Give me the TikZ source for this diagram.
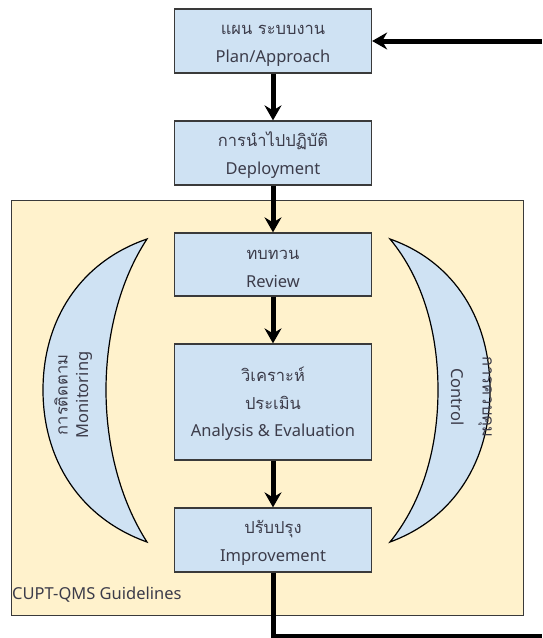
\documentclass[tikz,border=0pt]{standalone}
\usepackage{fontspec}
\setmainfont{Noto Sans}
\newfontfamily\thai[Script=Thai]{Loma}
\usetikzlibrary{arrows.meta}
\definecolor{boxfill}{HTML}{CFE2F3}
\definecolor{bgfill}{HTML}{FFF2CC}
\definecolor{txt}{HTML}{3C3C4A}
\definecolor{edge}{HTML}{3A3A3A}
\newcommand{\lowstrut}{\rule{0pt}{18.5pt}}
\tikzset{
  stepbox/.style={draw=edge, line width=1.3pt, fill=boxfill, minimum width=197pt, inner sep=0pt, align=center, text=txt, font=\fontsize{16.5}{27.5}\selectfont},
  flow/.style={line width=5pt, -{Stealth[length=15pt,width=17pt,inset=5pt]}},
  plainflow/.style={line width=5pt},
  crescent/.style={draw=black, line width=1.2pt, fill=boxfill},
  lbl/.style={text=txt, font=\fontsize{16.5}{18}\selectfont, inner sep=0pt}
}
\begin{document}
\begin{tikzpicture}[x=1pt,y=-1pt]
\useasboundingbox (0,0) rectangle (542,638);
% background
\node[draw=edge, line width=1.2pt, fill=bgfill, minimum width=512pt, minimum height=415pt, inner sep=0pt, anchor=north west] (bg) at (11,200) {};
\node[lbl, anchor=west] (guide) at (12,595) {CUPT-QMS Guidelines};
% boxes
\node[stepbox, minimum height=64pt] (plan) at (273,41) {\lowstrut{\thai แผน ระบบงาน}\\Plan/Approach};
\node[stepbox, minimum height=64pt] (deploy) at (273,153) {\lowstrut{\thai การนำไปปฏิบัติ}\\Deployment};
\node[stepbox, minimum height=63pt] (review) at (273,264.5) {\lowstrut{\thai ทบทวน}\\Review};
\node[stepbox, minimum height=116pt] (anal) at (273,402) {\lowstrut{\thai วิเคราะห์}\\{\thai ประเมิน}\\Analysis \& Evaluation};
\node[stepbox, minimum height=64pt] (impr) at (273,540) {\lowstrut{\thai ปรับปรุง}\\Improvement};
% crescents
\draw[crescent] (147,239) .. controls (80,262) and (43,320) .. (43,390) .. controls (43,460) and (80,518) .. (147,542)
  .. controls (120,500) and (106,445) .. (106,390) .. controls (106,335) and (120,280) .. (147,239) -- cycle;
\draw[crescent] (390,239) .. controls (455,262) and (490,320) .. (490,390) .. controls (490,460) and (455,518) .. (390,542)
  .. controls (424,500) and (438,445) .. (438,390) .. controls (438,335) and (424,280) .. (390,239) -- cycle;
\node[lbl, rotate=90] (month) at (61,395) {\thai การติดตาม};
\node[lbl, rotate=90] (mon) at (84,395) {Monitoring};
\node[lbl, rotate=-90] (con) at (458,397) {Control};
\node[lbl, rotate=-90] (conth) at (485,397) {\thai การควบคุม};
% connectors
\coordinate (inR) at (542,41);
\coordinate (botL) at (273,636);
\coordinate (botR) at (542,636);
\draw[flow] (inR) -- (plan.east);
\draw[flow] (plan.south) -- (deploy.north);
\draw[flow] (deploy.south) -- (review.north);
\draw[flow] (review.south) -- (anal.north);
\draw[flow] (anal.south) -- (impr.north);
\draw[plainflow] (impr.south) -- (botL) -- (botR);
\end{tikzpicture}
\end{document}
